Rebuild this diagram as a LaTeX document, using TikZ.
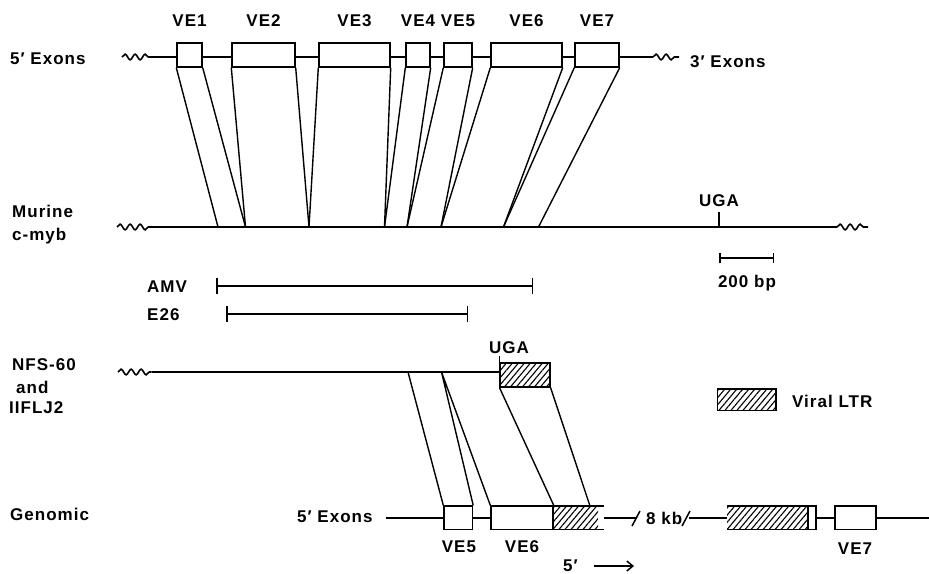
\documentclass[tikz,border=0pt]{standalone}
\usepackage{fontspec}
\setmainfont{Liberation Sans}[LetterSpace=6]
\usetikzlibrary{arrows.meta, positioning, patterns.meta, decorations.pathmorphing}
\tikzset{
    exon/.style={rectangle, draw=black, fill=white, line width=1.4pt, inner sep=0pt, minimum height=24pt},
    ltr/.style={rectangle, draw=black, line width=1.4pt, inner sep=0pt, minimum height=24pt, preaction={fill=white}, pattern={Lines[angle=50,distance=4.6pt,line width=1.1pt]}},
    hatch/.style={pattern={Lines[angle=50,distance=4.6pt,line width=1.1pt]}},
    dna/.style={line width=1.5pt},
    wavy/.style={line width=1.6pt, decorate, decoration={snake, amplitude=2.8pt, segment length=10pt}},
    fan/.style={line width=1.4pt},
    lbl/.style={inner sep=0pt, font=\fontsize{17}{21}\selectfont\bfseries},
    span/.style={line width=1.5pt, {Bar[width=16pt]}-{Bar[width=16pt]}}
}
\begin{document}
\begin{tikzpicture}[x=1pt, y=-1pt]
        \useasboundingbox (0,0) rectangle (929,573);

        % 5' exons row
        \draw[wavy] (122,57) -- (152,57);
        \draw[dna] (152,57) -- (653,57);
        \draw[wavy] (653,57) -- (679,57);
        \node[lbl, anchor=base west] (exfive) at (10,64) {5′ Exons};
        \node[lbl, anchor=base west] (exthree) at (690,67) {3′ Exons};
        \foreach \n/\a/\b in {1/177/202, 2/232/295, 3/319/390, 4/406/430, 5/444/472, 6/491/562, 7/575/619} {
            \node[exon, minimum width={\b-\a}] (ve\n) at ({(\a+\b)/2},55) {};
            \node[lbl, above=15.5pt of ve\n] {VE\n};
        }

        % Murine c-myb
        \node[lbl, anchor=base west] (murine) at (12,217) {Murine};
        \node[lbl, anchor=base west] (cmyb) at (12,240) {c-myb};
        \draw[wavy] (117,227) -- (151,227);
        \draw[dna] (151,227) -- (837,227);
        \draw[wavy] (837,227) -- (868,227);
        \foreach \x [count=\i from 0] in {218,245.5,309,384.5,407,441,503.5,538.5}
            \coordinate (m\i) at (\x,227);
        \foreach \e/\l/\r in {ve1/m0/m1, ve2/m1/m2, ve3/m2/m3, ve4/m3/m4, ve5/m4/m5, ve6/m5/m6, ve7/m6/m7}
            \draw[fan] (\e.south west) -- (\l) (\e.south east) -- (\r);
        \coordinate (ugaM) at (719,227);
        \draw[dna] (ugaM) -- ++(0,-15.5);
        \node[lbl, anchor=base] (ugaMtxt) at (719,206) {UGA};

        % scale bar
        \coordinate (barL) at (719,258);
        \coordinate (barR) at (774,258);
        \draw[span, {Bar[width=10pt]}-{Bar[width=10pt]}] (barL) -- (barR);
        \node[lbl, anchor=base] (bp) at (747,287) {200 bp};

        % AMV and E26
        \node[lbl, anchor=base west] (amv) at (147,292.5) {AMV};
        \coordinate (amvL) at (216,286);
        \coordinate (amvR) at (533,286);
        \draw[span] (amvL) -- (amvR);
        \node[lbl, anchor=base west] (esix) at (147,320) {E26};
        \coordinate (eL) at (226,314);
        \coordinate (eR) at (468,314);
        \draw[span] (eL) -- (eR);

        % NFS-60 and IIFLJ2
        \node[lbl, anchor=base west] (nfs) at (12,370) {NFS-60};
        \node[lbl, anchor=base west] (nand) at (16,393) {and};
        \node[lbl, anchor=base west] (hflj) at (9,413) {IIFLJ2};
        \draw[wavy] (118,372) -- (151.5,372);
        \draw[dna] (151.5,372) -- (500,372);
        \node[ltr, minimum width=50pt] (ltrN) at (525,375) {};
        \draw[dna] (ltrN.south west) -- ++(0,-32);
        \node[lbl, anchor=base] (ugaNtxt) at (509,353) {UGA};

        % legend
        \node[ltr, minimum width=58.5pt, minimum height=21.5pt] (key) at (746.75,399.75) {};
        \node[lbl, anchor=base west] (keytxt) at (792,407.3) {Viral LTR};

        % Genomic
        \node[lbl, anchor=base west] (genomic) at (10,520) {Genomic};
        \node[lbl, anchor=base west] (exfiveg) at (297,522) {5′ Exons};
        \draw[dna] (386,518) -- (637,518);
        \draw[dna] (689,518) -- (929,518);
        \fill[white] (553,506) rectangle (604,529.5);
        \fill[hatch] (553,506) rectangle (598,529.5);
        \draw[fan] (553,506) -- (604,506) (553,529.5) -- (604,529.5);
        \node[exon, minimum width=28.5pt, minimum height=23.5pt] (gve5) at (458.25,517.75) {};
        \node[exon, minimum width=62pt, minimum height=23.5pt] (gve6) at (522,517.75) {};
        \draw[dna] (632,526) -- (640,511);
        \node[lbl, anchor=base west] (kb) at (646,524) {8 kb};
        \draw[dna] (682,526) -- (690,511);
        \fill[white] (727,506) rectangle (816,529.5);
        \fill[hatch] (727,506) rectangle (808,529.5);
        \draw[fan] (727,506) -- (816,506) -- (816,529.5) -- (727,529.5) (808,506) -- (808,529.5);
        \node[exon, minimum width=41pt, minimum height=23.5pt] (gve7) at (855.5,517.75) {};
        \node[lbl, anchor=base] at (458.9,552) {VE5};
        \node[lbl, anchor=base] at (522,552) {VE6};
        \node[lbl, anchor=base] at (855,554) {VE7};
        \node[lbl, anchor=base west] (fivep) at (563,571) {5′};
        \draw[dna, -{Straight Barb[length=6pt, width=10pt]}] (594,566) -- (634,566);

        % lower fan
        \coordinate (n1) at (408,372);
        \coordinate (n2) at (441.5,372);
        \coordinate (g1) at (590,506);
        \draw[fan] (n1) -- (gve5.north west) (n2) -- (gve5.north east) (n2) -- (gve6.north west)
            (ltrN.south west) -- (gve6.north east) (ltrN.south east) -- (g1);
    \end{tikzpicture}
\end{document}
